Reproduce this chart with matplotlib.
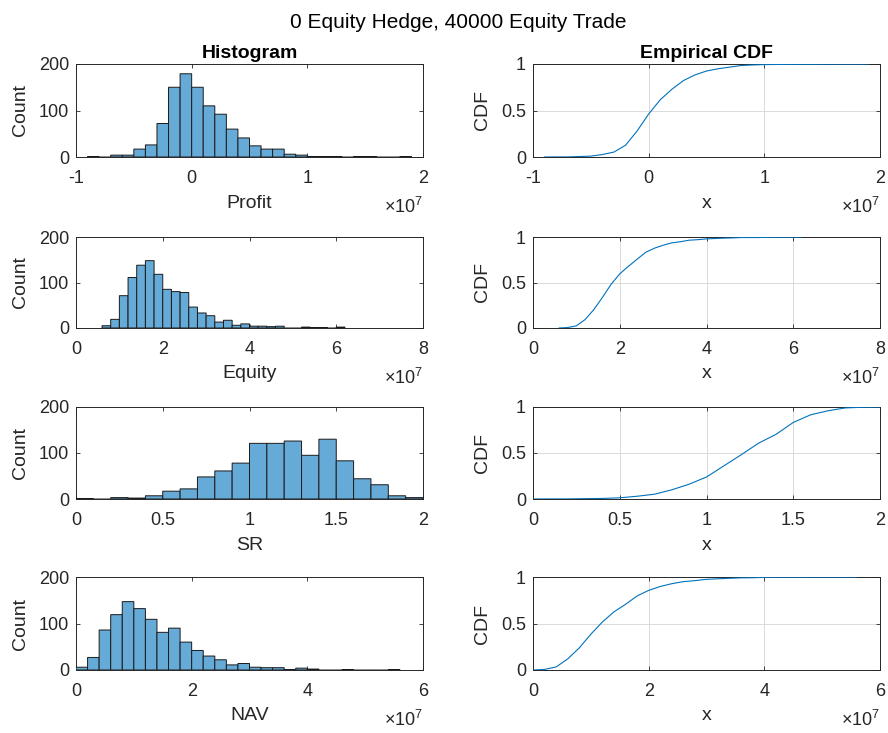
import numpy as np
import matplotlib
matplotlib.use("Agg")
import matplotlib.pyplot as plt
from matplotlib.ticker import FuncFormatter

plt.rcParams['font.family'] = ['Liberation Sans', 'DejaVu Sans']
plt.rcParams['mathtext.fontset'] = 'custom'
plt.rcParams['mathtext.rm'] = 'Liberation Sans'
plt.rcParams['mathtext.it'] = 'Liberation Sans:italic'

# ---------------- data ----------------
suptitle = "0 Equity Hedge, 40000 Equity Trade"
var_names = ["Profit", "Equity", "SR", "NAV"]

# histogram bins: first bin left edge, bin width, counts
profit_start, profit_width = -0.9e7, 1e6
profit_counts = [1, 0, 4, 4, 17, 26, 72, 150, 179, 150, 110, 92, 60, 41, 24, 17, 17,
                 6, 4, 1, 1, 1, 0, 1, 1, 0, 0, 1]

equity_start, equity_width = 0.6e7, 2e6
equity_counts = [5, 19, 71, 111, 138, 148, 118, 85, 80, 78, 46, 33, 27, 13, 17, 6, 9,
                 4, 4, 3, 4, 0, 0, 2, 1, 1, 0, 2]

sr_start, sr_width = 0.0, 0.1
sr_counts = [1, 0, 3, 2, 7, 17, 22, 48, 61, 78, 121, 121, 126, 95, 130, 83, 44, 31, 7, 3]

nav_start, nav_width = 0.0, 2e6
nav_counts = [6, 27, 86, 119, 147, 132, 109, 81, 90, 60, 42, 30, 22, 11, 14, 6, 5, 5,
              1, 4, 2, 0, 0, 1, 0, 0, 0, 1]

# axis limits / ticks / tick-label scale
xlims = [(-1e7, 2e7), (0, 8e7), (0, 2), (0, 6e7)]
xticks = [[-1e7, 0, 1e7, 2e7], [0, 2e7, 4e7, 6e7, 8e7], [0, 0.5, 1, 1.5, 2],
          [0, 2e7, 4e7, 6e7]]
xscale_exp = [7, 7, None, 7]
hist_yticks = [0, 100, 200]
cdf_yticks = [0, 0.5, 1]

starts = [profit_start, equity_start, sr_start, nav_start]
widths = [profit_width, equity_width, sr_width, nav_width]
counts = [profit_counts, equity_counts, sr_counts, nav_counts]

# ---------------- layout ----------------
W, H = 888, 733
fig = plt.figure(figsize=(W / 100, H / 100), dpi=100)

def rect(l, t, r, b):
    return [l / W, 1 - b / H, (r - l) / W, (b - t) / H]

rows = [(64, 157), (237, 328), (407, 499), (577, 670)]
left_x = (76, 423)
right_x = (533, 880)

txt_c = '#262626'
face = (102 / 255, 170 / 255, 215 / 255)
line_c = '#0072BD'
TICK_FS = 13
LAB_FS = 14
TITLE_FS = 14

def style(ax):
    for s in ax.spines.values():
        s.set_color(txt_c)
        s.set_linewidth(0.7)
    ax.tick_params(direction='in', top=True, right=True, length=3.0, width=0.6,
                   colors=txt_c, labelsize=TICK_FS, labelcolor=txt_c)
    ax.tick_params(axis='x', pad=9.5)
    ax.tick_params(axis='y', pad=5)

def fmt_factory(exp):
    if exp is None:
        return FuncFormatter(lambda v, _: f"{v:g}")
    return FuncFormatter(lambda v, _: f"{v / 10 ** exp:g}")

for i, (t, b) in enumerate(rows):
    c = np.asarray(counts[i], dtype=float)
    edges = starts[i] + widths[i] * np.arange(len(c) + 1)
    hpx = b - t

    # ---- histogram ----
    ax = fig.add_axes(rect(left_x[0], t, left_x[1], b))
    bars = ax.bar(edges[:-1], c, width=widths[i], align='edge', color=face,
                  edgecolor='#1a1a1a', linewidth=0.7, zorder=3)
    for p in bars:
        p.set_snap(False)
    ax.set_xlim(*xlims[i])
    ax.set_ylim(0, 200)
    ax.set_xticks(xticks[i])
    ax.set_yticks(hist_yticks)
    ax.xaxis.set_major_formatter(fmt_factory(xscale_exp[i]))
    style(ax)
    ax.set_xlabel(var_names[i], fontsize=LAB_FS, color=txt_c)
    ax.xaxis.set_label_coords(0.5, -46 / hpx)
    ax.xaxis.label.set_va('center')
    ax.set_ylabel("Count", fontsize=LAB_FS, color=txt_c)
    ax.yaxis.set_label_coords(-56 / (left_x[1] - left_x[0]), 0.5)
    ax.yaxis.label.set_va('center')
    if i == 0:
        ax.set_title("Histogram", fontsize=TITLE_FS, fontweight='bold', color='black', pad=4)
    if xscale_exp[i] is not None:
        ax.annotate(r"$\times10^{%d}$" % xscale_exp[i], xy=(1, 0), xycoords='axes fraction',
                    xytext=(0, -50), textcoords='offset pixels', ha='right', va='center',
                    fontsize=TICK_FS, color=txt_c)

    # ---- empirical CDF ----
    ax2 = fig.add_axes(rect(right_x[0], t, right_x[1], b))
    cdf = np.concatenate([[0.0], np.cumsum(c)]) / c.sum()
    ax2.plot(edges, cdf, color=line_c, linewidth=0.8, zorder=3)
    ax2.set_xlim(*xlims[i])
    ax2.set_ylim(0, 1)
    ax2.set_xticks(xticks[i])
    ax2.set_yticks(cdf_yticks)
    ax2.xaxis.set_major_formatter(fmt_factory(xscale_exp[i]))
    ax2.yaxis.set_major_formatter(FuncFormatter(lambda v, _: f"{v:g}"))
    ax2.grid(True, color='#dadada', linewidth=0.7, zorder=0)
    ax2.set_axisbelow(True)
    style(ax2)
    ax2.set_xlabel("x", fontsize=LAB_FS, color=txt_c)
    ax2.xaxis.set_label_coords(0.5, -46 / hpx)
    ax2.xaxis.label.set_va('center')
    ax2.set_ylabel("CDF", fontsize=LAB_FS, color=txt_c)
    ax2.yaxis.set_label_coords(-51 / (right_x[1] - right_x[0]), 0.5)
    ax2.yaxis.label.set_va('center')
    if i == 0:
        ax2.set_title("Empirical CDF", fontsize=TITLE_FS, fontweight='bold', color='black', pad=4)
    if xscale_exp[i] is not None:
        ax2.annotate(r"$\times10^{%d}$" % xscale_exp[i], xy=(1, 0), xycoords='axes fraction',
                     xytext=(0, -50), textcoords='offset pixels', ha='right', va='center',
                     fontsize=TICK_FS, color=txt_c)

fig.text(458 / W, 1 - 22 / H, suptitle, ha='center', va='center', fontsize=15, color='black')

fig.savefig("out.png", dpi=100)
